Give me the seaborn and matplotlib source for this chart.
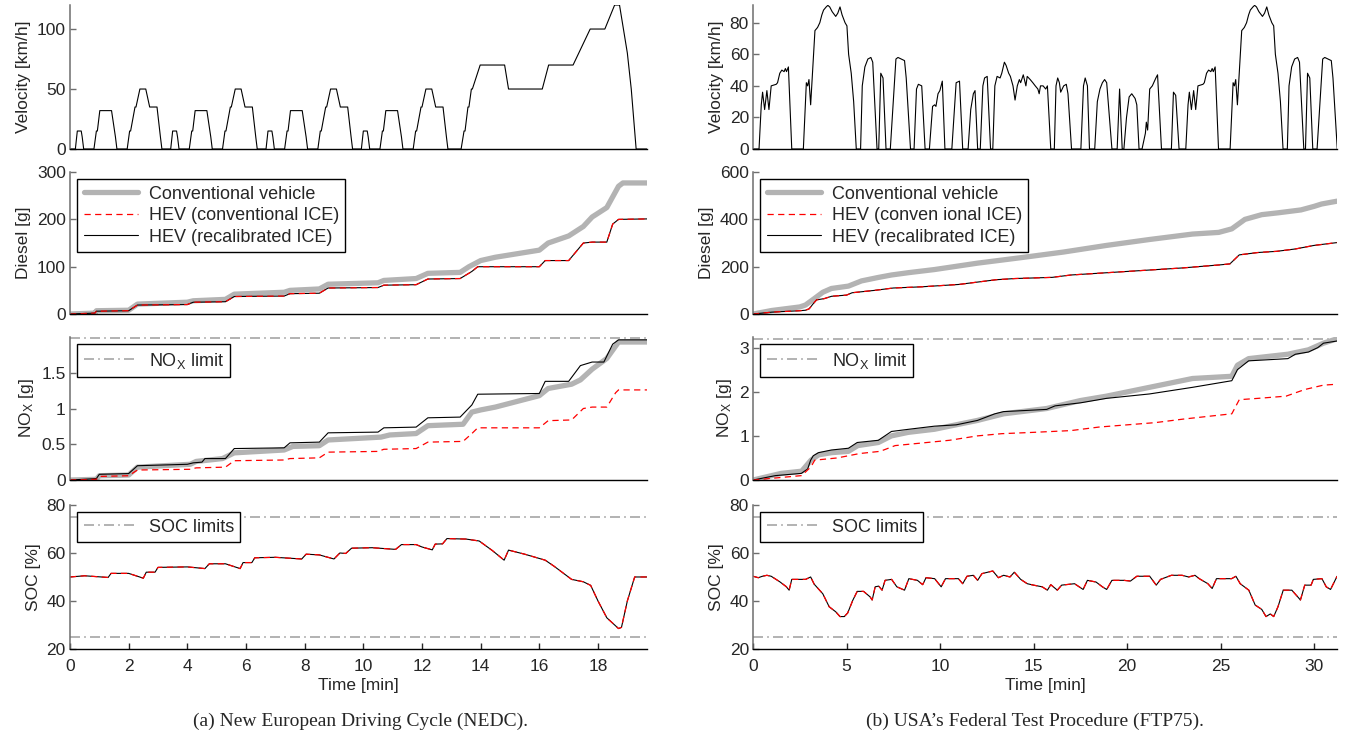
import numpy as np
import matplotlib
matplotlib.use("Agg")
import matplotlib.pyplot as plt
import seaborn as sns

# -----------------------
# NEDC (left column), time in minutes unless noted
# -----------------------
# one ECE-15 urban block (s, km/h); the cycle runs it four times, then the EUDC
ece_t = [0, 11, 15, 23, 25, 28, 49, 54, 56, 61, 85, 93, 96, 117, 122, 124, 133, 135, 143, 155, 163, 176, 178, 185, 188]
ece_v = [0, 0, 15, 15, 10, 0, 0, 15, 15, 32, 32, 10, 0, 0, 15, 15, 35, 35, 50, 50, 35, 35, 35, 10, 0]
ece_starts = [0, 195, 390, 585]
eudc_t = [780, 800, 806, 808, 814, 816, 821, 823, 839, 889, 897, 966, 979, 1029, 1064, 1094, 1114, 1124, 1140, 1148, 1158, 1180]
eudc_v = [0, 0, 15, 15, 35, 35, 50, 50, 70, 70, 50, 50, 70, 70, 100, 100, 120, 120, 80, 50, 0, 0]

nedc_fuel_conv_t = [0, 0.85, 0.9, 2.0, 2.3, 4.0, 4.2, 5.3, 5.6, 7.3, 7.5, 8.5, 8.8, 10.5, 10.7, 11.8, 12.2, 13.3, 13.6,
                    14.0, 14.5, 16.0, 16.3, 17.0, 17.5, 17.8, 18.3, 18.7, 18.85, 19.67]
nedc_fuel_conv = [0, 2, 7, 8, 21, 25, 28, 31, 42, 46, 50, 53, 63, 66, 71, 75, 86, 88, 100,
                  113, 120, 135, 150, 165, 185, 205, 225, 270, 277, 277]
nedc_fuel_hev_t = [0, 0.85, 0.9, 2.0, 2.3, 4.0, 4.2, 5.3, 5.6, 7.3, 7.5, 8.5, 8.8, 10.5, 10.7, 11.8, 12.2, 13.3, 13.7,
                   13.9, 16.0, 16.2, 17.0, 17.5, 17.8, 18.3, 18.5, 18.7, 19.67]
nedc_fuel_hev = [0, 2, 6, 7, 19, 20, 25, 26, 37, 38, 43, 44, 55, 56, 61, 62, 74, 75, 90,
                 100, 100, 113, 113, 150, 152, 152, 190, 200, 201]

nedc_nox_conv_t = [0, 0.9, 1.0, 2.0, 2.3, 4.1, 4.3, 5.2, 5.6, 7.3, 7.6, 8.5, 8.8, 10.6, 10.9, 11.8, 12.2, 13.4, 13.7,
                   14.0, 14.5, 16.0, 16.3, 17.1, 17.4, 17.8, 18.3, 18.7, 19.67]
nedc_nox_conv = [0, 0.01, 0.06, 0.07, 0.18, 0.22, 0.26, 0.3, 0.38, 0.42, 0.47, 0.48, 0.56, 0.6, 0.63, 0.65, 0.76, 0.78,
                 0.95, 0.98, 1.02, 1.18, 1.28, 1.34, 1.4, 1.55, 1.7, 1.93, 1.93]
nedc_nox_hev_t = [0, 0.9, 1.0, 2.0, 2.3, 4.1, 4.3, 5.3, 5.6, 7.3, 7.5, 8.5, 8.8, 10.5, 10.7, 11.8, 12.2, 13.4, 13.7,
                  13.9, 16.0, 16.3, 17.1, 17.5, 17.8, 18.3, 18.6, 18.7, 19.67]
nedc_nox_hev = [0, 0.01, 0.05, 0.06, 0.14, 0.15, 0.17, 0.18, 0.27, 0.28, 0.3, 0.31, 0.39, 0.4, 0.43, 0.44, 0.53, 0.54,
                0.65, 0.73, 0.73, 0.83, 0.84, 1.0, 1.02, 1.02, 1.22, 1.26, 1.26]
nedc_nox_recal_t = [0, 0.9, 1.0, 2.0, 2.3, 4.0, 4.2, 4.5, 4.6, 5.3, 5.6, 7.3, 7.5, 8.5, 8.8, 10.5, 10.7, 11.8, 12.2,
                    13.3, 13.7, 13.9, 16.0, 16.2, 17.0, 17.4, 17.8, 18.2, 18.5, 18.7, 19.67]
nedc_nox_recal = [0, 0.02, 0.08, 0.09, 0.2, 0.22, 0.24, 0.25, 0.3, 0.3, 0.44, 0.45, 0.52, 0.53, 0.66, 0.67, 0.73, 0.74,
                  0.87, 0.88, 1.05, 1.2, 1.21, 1.38, 1.38, 1.6, 1.65, 1.65, 1.9, 1.96, 1.96]

nedc_soc_t = [0, 0.5, 1.3, 1.4, 2.0, 2.5, 2.6, 2.9, 3.0, 4.0, 4.6, 4.75, 5.3, 5.8, 5.9, 6.2, 6.3, 7.0, 7.9, 8.05,
              8.5, 9.0, 9.2, 9.4, 9.6, 10.3, 11.1, 11.3, 11.8, 12.0, 12.35, 12.45, 12.7, 12.85, 13.5, 13.95, 14.4,
              14.8, 14.95, 15.5, 16.2, 16.5, 17.1, 17.5, 17.75, 18.0, 18.3, 18.7, 18.8, 19.0, 19.25, 19.67]
nedc_soc = [50, 50.5, 49.8, 51.5, 51.5, 49.5, 52, 52, 54, 54.2, 53.5, 55.5, 55.5, 53.5, 56, 56, 58, 58.2, 57.5, 59.5,
            59.2, 57.5, 60, 59.8, 62, 62.2, 61.5, 63.5, 63.5, 62.5, 61.3, 63.7, 63.8, 66, 65.8, 65, 61,
            57, 61.2, 59.5, 57, 54.5, 49, 48, 46.5, 40, 33, 28.5, 29, 40, 50, 50]

# -----------------------
# FTP75 (right column)
# -----------------------
ftp_bag1_t = [0.00, 0.32, 0.44, 0.51, 0.62, 0.74, 0.85, 0.97, 1.24, 1.31, 1.43, 1.54, 1.66, 1.73, 1.79, 1.89, 2.07,
              2.69, 2.85, 2.92, 2.99, 3.08, 3.31, 3.45, 3.57, 3.68, 3.77, 3.91, 4.00, 4.10, 4.23, 4.42, 4.53, 4.65,
              4.76, 4.92, 5.02, 5.11, 5.25, 5.38, 5.52, 5.75, 5.84, 5.98, 6.14, 6.30, 6.40, 6.63, 6.72, 6.83, 6.95,
              7.11, 7.34, 7.64, 7.75, 8.10, 8.19, 8.42]
ftp_bag1_v = [0, 0, 28, 36, 25, 37, 25, 40, 41, 42, 48, 50, 49, 51, 49, 52, 0,
              0, 42, 40, 44, 28, 75, 77, 80, 85, 88, 90, 91, 90, 87, 84, 86, 90,
              85, 80, 78, 60, 48, 30, 0, 0, 40, 52, 57, 58, 55, 0, 0, 48, 45,
              0, 0, 57, 58, 56, 45, 0]
ftp_bag2_t = [8.61, 8.74, 8.84, 9.02, 9.20, 9.43, 9.60, 9.71, 9.78, 9.89, 9.99, 10.12, 10.26, 10.63, 10.86, 11.04,
              11.21, 11.50, 11.64, 11.78, 11.87, 12.01, 12.15, 12.29, 12.38, 12.52, 12.70, 12.82, 12.93, 13.05, 13.21,
              13.30, 13.44, 13.53, 13.67, 13.76, 13.90, 14.01, 14.13, 14.24, 14.31, 14.45, 14.59, 14.66, 14.82, 14.96,
              15.09, 15.23, 15.30, 15.37, 15.51, 15.65, 15.74, 15.92, 16.11, 16.20, 16.29, 16.38, 16.45, 16.61, 16.75,
              16.84, 17.03, 17.53, 17.67, 17.76, 17.88, 17.99, 18.27, 18.41, 18.55, 18.68, 18.80, 18.91, 19.19, 19.47,
              19.60, 19.74, 19.83, 19.97, 20.11, 20.25, 20.43, 20.52, 20.64, 20.80, 20.98, 21.03, 21.10, 21.21, 21.35,
              21.54, 21.63, 21.84, 22.37, 22.48, 22.60, 22.78]
ftp_bag2_v = [0, 38, 41, 40, 0, 0, 27, 28, 27, 35, 37, 43, 0, 0, 42, 43,
              0, 0, 25, 35, 37, 0, 0, 40, 45, 46, 0, 0, 40, 46, 45,
              48, 55, 53, 48, 46, 40, 31, 40, 44, 42, 47, 40, 46, 44, 42,
              40, 38, 35, 40, 40, 38, 40, 0, 0, 40, 45, 42, 36, 40, 41,
              35, 0, 0, 40, 45, 40, 0, 0, 30, 38, 42, 44, 42, 0, 0,
              38, 0, 0, 20, 33, 35, 32, 28, 0, 0, 10, 17, 12, 38, 40,
              45, 47, 0, 0, 36, 34, 0]
ftp_bag3_start = 22.82  # hot start: bag 1 profile driven again

ftp_fuel_conv_t = [0, 1.0, 2.5, 2.8, 3.27, 3.73, 4.19, 5.1, 5.8, 6.72, 7.4, 8.33, 9.7, 12.0, 14.3, 16.6, 18.9, 21.2,
                   23.5, 24.9, 25.6, 26.3, 27.2, 28.1, 29.3, 30.0, 30.4, 31.23]
ftp_fuel_conv = [0, 15, 30, 38, 65, 92, 108, 118, 140, 155, 165, 175, 188, 215, 238, 262, 290, 315,
                 338, 345, 360, 400, 420, 428, 440, 455, 465, 477]
ftp_fuel_hev_t = [0, 1.0, 2.5, 2.8, 3.0, 3.2, 3.4, 3.8, 4.2, 5.0, 5.3, 6.5, 7.5, 9.0, 11.0, 13.0, 14.0, 16.0, 17.0,
                  19.0, 21.0, 23.0, 25.0, 25.5, 26.0, 27.0, 28.0, 29.0, 30.0, 31.23]
ftp_fuel_hev = [0, 8, 14, 16, 22, 42, 60, 65, 75, 80, 90, 100, 110, 115, 125, 145, 150, 155, 165,
                175, 185, 195, 208, 212, 250, 260, 265, 275, 290, 302]

ftp_nox_conv_t = [0, 1.5, 2.6, 3.1, 3.5, 4.2, 5.1, 5.6, 6.7, 7.4, 8.3, 9.7, 12.0, 13.4, 15.7, 17.5, 18.9, 21.2, 23.5,
                  25.6, 25.9, 26.5, 28.6, 29.7, 30.5, 31.23]
ftp_nox_conv = [0, 0.15, 0.2, 0.45, 0.57, 0.62, 0.65, 0.78, 0.85, 1.0, 1.08, 1.15, 1.35, 1.5, 1.62, 1.8, 1.9, 2.1, 2.3,
                2.35, 2.6, 2.75, 2.85, 2.95, 3.1, 3.2]
ftp_nox_hev_t = [0, 2.6, 3.1, 3.3, 4.5, 5.7, 6.8, 7.6, 9.3, 10.5, 12.0, 13.3, 15.0, 17.0, 18.5, 20.0, 21.5, 23.0, 24.5,
                 25.6, 26.0, 27.0, 28.5, 29.5, 30.5, 31.23]
ftp_nox_hev = [0, 0.1, 0.3, 0.45, 0.5, 0.6, 0.65, 0.78, 0.85, 0.9, 1.0, 1.05, 1.08, 1.12, 1.2, 1.25, 1.3, 1.38, 1.45,
               1.5, 1.82, 1.85, 1.9, 2.05, 2.15, 2.17]
ftp_nox_recal_t = [0, 1.2, 2.58, 2.92, 3.08, 3.22, 3.5, 4.19, 5.1, 5.57, 6.7, 7.4, 8.33, 9.7, 10.86, 12.0, 12.93, 13.4,
                   15.7, 16.15, 17.53, 18.9, 21.2, 23.5, 25.6, 25.9, 26.5, 28.6, 29.0, 29.7, 30.2, 30.5, 31.23]
ftp_nox_recal = [0, 0.1, 0.15, 0.25, 0.45, 0.55, 0.62, 0.68, 0.72, 0.85, 0.9, 1.1, 1.15, 1.22, 1.25, 1.35, 1.5, 1.55,
                 1.6, 1.68, 1.75, 1.85, 1.95, 2.1, 2.25, 2.5, 2.7, 2.75, 2.85, 2.9, 3.0, 3.1, 3.15]

ftp_soc_t = [0, 0.28, 0.5, 0.74, 0.97, 1.43, 1.77, 1.93, 2.07, 2.81, 3.08, 3.27, 3.73, 4.07, 4.42, 4.65, 4.88, 5.06,
             5.34, 5.57, 5.91, 6.26, 6.37, 6.53, 6.72, 6.9, 7.06, 7.41, 7.69, 8.1, 8.33, 8.79, 9.07, 9.25, 9.71, 10.06,
             10.29, 10.98, 11.21, 11.44, 11.78, 12.01, 12.24, 12.82, 13.12, 13.4, 13.74, 13.97, 14.31, 14.66, 15.0,
             15.46, 15.74, 15.92, 16.27, 16.5, 17.19, 17.65, 17.88, 18.34, 18.68, 18.91, 19.19, 19.83, 20.18, 20.52,
             21.21, 21.56, 21.79, 22.37, 22.94, 23.29, 23.63, 23.86, 24.32, 24.55, 24.78, 25.59, 25.82, 26.05, 26.51,
             26.85, 27.2, 27.43, 27.66, 27.84, 28.07, 28.35, 28.81, 29.15, 29.27, 29.5, 29.84, 29.96, 30.42, 30.65,
             30.88, 31.23]
ftp_soc = [50.3, 49.7, 50.3, 50.7, 50.3, 48, 46, 44.5, 49, 49, 50, 47, 43, 37.6, 35.5, 33.5, 33.5, 35,
           40.4, 44, 44, 41.7, 40.4, 45.9, 46.2, 44.5, 48.6, 49, 45.9, 44.5, 49.3, 48.6, 46.8, 49.7, 49.3, 45.9,
           49.3, 49.3, 47.2, 50.3, 50.7, 48.6, 51.4, 52.5, 49.7, 50.7, 50, 52, 49, 47.2, 46.6,
           45.9, 44.5, 46.8, 44.5, 46.6, 47.2, 44.8, 48.6, 47.9, 45.9, 44.8, 48.6, 48.6, 48.3, 50.3,
           50.3, 46.6, 49, 50.7, 50.7, 50, 50.7, 49.3, 47.2, 45.2, 49.3, 49.3, 50.3, 47.2, 44.5,
           38.3, 36.5, 33.5, 34.6, 33.5, 37.6, 44.5, 44.5, 41.5, 40.4, 46.6, 46.6, 49, 49.3, 45.9,
           44.8, 50.3]

nox_limits = [1.98, 3.2]
soc_limits = [25, 75]

# assemble the velocity traces
nedc_t = np.concatenate([np.array(ece_t) + s for s in ece_starts] + [np.array(eudc_t)]) / 60.0
nedc_v = np.concatenate([ece_v] * len(ece_starts) + [eudc_v])
ftp_t = np.concatenate([ftp_bag1_t, ftp_bag2_t, np.array(ftp_bag1_t) + ftp_bag3_start])
ftp_v = np.concatenate([ftp_bag1_v, ftp_bag2_v, ftp_bag1_v])

GRAY = "#b3b3b3"
LIMIT = "#a6a6a6"
DASH = (0, (5, 3.5))
DASHDOT = (0, (6, 2.5, 1, 2.5))


def trace(ax, t, v, **kw):
    sns.lineplot(x=list(t), y=list(v), ax=ax, estimator=None, sort=False, legend=False, **kw)


def frame(ax, show_x):
    for s in ("top", "right"):
        ax.spines[s].set_visible(False)
    ax.spines["left"].set_color("#6e6e6e")
    ax.spines["left"].set_linewidth(1.1)
    ax.spines["bottom"].set_color("black")
    ax.spines["bottom"].set_linewidth(1.0)
    ax.tick_params(axis="y", length=4, width=1, color="#6e6e6e", labelsize=12.5, pad=3)
    ax.tick_params(axis="x", length=4, width=1, labelsize=12.5, pad=7)
    if not show_x:
        ax.tick_params(axis="x", bottom=False, labelbottom=False)
    ax.set_xlabel("")


def box_legend(ax, handles, labels):
    leg = ax.legend(handles, labels, loc="upper left", fontsize=13, frameon=True, fancybox=False,
                    edgecolor="black", framealpha=1, handlelength=3.0, borderaxespad=0.4,
                    borderpad=0.35, labelspacing=0.25, handletextpad=0.6)
    leg.get_frame().set_linewidth(1.0)


def main():
    sns.set_style("ticks")
    plt.rcParams["font.family"] = ["Liberation Sans", "DejaVu Sans"]
    plt.rcParams["mathtext.default"] = "regular"
    plt.rcParams["xtick.direction"] = "in"
    plt.rcParams["ytick.direction"] = "in"

    fig = plt.figure(figsize=(13.51, 7.41), dpi=100)
    rows = [(0.7989, 0.1943), (0.5762, 0.1916), (0.3522, 0.1930), (0.1242, 0.1943)]
    cols = [(0.0518, 0.4271), (0.5574, 0.4323)]

    cycles = [
        dict(t=nedc_t, v=nedc_v, vmax=120, vticks=[0, 50, 100], xmax=19.67, xticks=range(0, 19, 2),
             fc_t=nedc_fuel_conv_t, fc=nedc_fuel_conv, fh_t=nedc_fuel_hev_t, fh=nedc_fuel_hev,
             fticks=[0, 100, 200, 300], fmax=300,
             nc_t=nedc_nox_conv_t, nc=nedc_nox_conv, nh_t=nedc_nox_hev_t, nh=nedc_nox_hev,
             nr_t=nedc_nox_recal_t, nr=nedc_nox_recal, nlim=nox_limits[0], nmax=2.0,
             nticks=[0, 0.5, 1, 1.5], nlabels=["0", "0.5", "1", "1.5"],
             s_t=nedc_soc_t, s=nedc_soc, hev2="HEV (conventional ICE)",
             caption="(a) New European Driving Cycle (NEDC).", cx=0.2665),
        dict(t=ftp_t, v=ftp_v, vmax=91.2, vticks=[0, 20, 40, 60, 80], xmax=31.23, xticks=range(0, 31, 5),
             fc_t=ftp_fuel_conv_t, fc=ftp_fuel_conv, fh_t=ftp_fuel_hev_t, fh=ftp_fuel_hev,
             fticks=[0, 200, 400, 600], fmax=600,
             nc_t=ftp_nox_conv_t, nc=ftp_nox_conv, nh_t=ftp_nox_hev_t, nh=ftp_nox_hev,
             nr_t=ftp_nox_recal_t, nr=ftp_nox_recal, nlim=nox_limits[1], nmax=3.24,
             nticks=[0, 1, 2, 3], nlabels=["0", "1", "2", "3"],
             s_t=ftp_soc_t, s=ftp_soc, hev2="HEV (conven ional ICE)",
             caption="(b) USA\u2019s Federal Test Procedure (FTP75).", cx=0.766),
    ]

    for (left, width), c in zip(cols, cycles):
        axes = [fig.add_axes([left, b, width, h]) for b, h in rows]
        ax_v, ax_f, ax_n, ax_s = axes

        # velocity
        trace(ax_v, c["t"], c["v"], color="black", linewidth=0.8)
        ax_v.set_ylim(0, c["vmax"])
        ax_v.set_yticks(c["vticks"])
        ax_v.set_ylabel("Velocity [km/h]", fontsize=12.5)

        # diesel
        trace(ax_f, c["fc_t"], c["fc"], color=GRAY, linewidth=3.8)
        trace(ax_f, c["fh_t"], c["fh"], color="black", linewidth=0.8)
        trace(ax_f, c["fh_t"], c["fh"], color="red", linewidth=0.9, linestyle=DASH)
        ax_f.set_ylim(0, c["fmax"])
        ax_f.set_yticks(c["fticks"])
        ax_f.set_ylabel("Diesel [g]", fontsize=12.5)
        l_conv, l_rec, l_hev = ax_f.lines[:3]
        box_legend(ax_f, [l_conv, l_hev, l_rec], ["Conventional vehicle", c["hev2"], "HEV (recalibrated ICE)"])

        # NOx
        lim = ax_n.axhline(c["nlim"], color=LIMIT, linewidth=1.2, linestyle=DASHDOT)
        trace(ax_n, c["nc_t"], c["nc"], color=GRAY, linewidth=3.8)
        trace(ax_n, c["nr_t"], c["nr"], color="black", linewidth=0.8)
        trace(ax_n, c["nh_t"], c["nh"], color="red", linewidth=0.9, linestyle=DASH)
        ax_n.set_ylim(0, c["nmax"])
        ax_n.set_yticks(c["nticks"])
        ax_n.set_yticklabels(c["nlabels"])
        ax_n.set_ylabel("NO$_X$ [g]", fontsize=12.5)
        box_legend(ax_n, [lim], ["NO$_X$ limit"])

        # SOC
        lo = ax_s.axhline(soc_limits[0], color=LIMIT, linewidth=1.2, linestyle=DASHDOT)
        ax_s.axhline(soc_limits[1], color=LIMIT, linewidth=1.2, linestyle=DASHDOT)
        trace(ax_s, c["s_t"], c["s"], color="black", linewidth=0.8)
        trace(ax_s, c["s_t"], c["s"], color="red", linewidth=0.9, linestyle=DASH)
        ax_s.set_ylim(20, 80)
        ax_s.set_yticks([20, 40, 60, 80])
        ax_s.set_ylabel("SOC [%]", fontsize=12.5)
        box_legend(ax_s, [lo], ["SOC limits"])

        for ax in axes:
            ax.set_xlim(0, c["xmax"])
            ax.set_xticks(list(c["xticks"]))
            frame(ax, ax is ax_s)
        ax_s.set_xlabel("Time [min]", fontsize=12.5, labelpad=3)

        fig.text(c["cx"], 0.027, c["caption"], ha="center", va="center",
                 family=["Liberation Serif", "DejaVu Serif"], fontsize=14)

    fig.savefig("out.png", dpi=100)
    plt.close(fig)


if __name__ == "__main__":
    main()
